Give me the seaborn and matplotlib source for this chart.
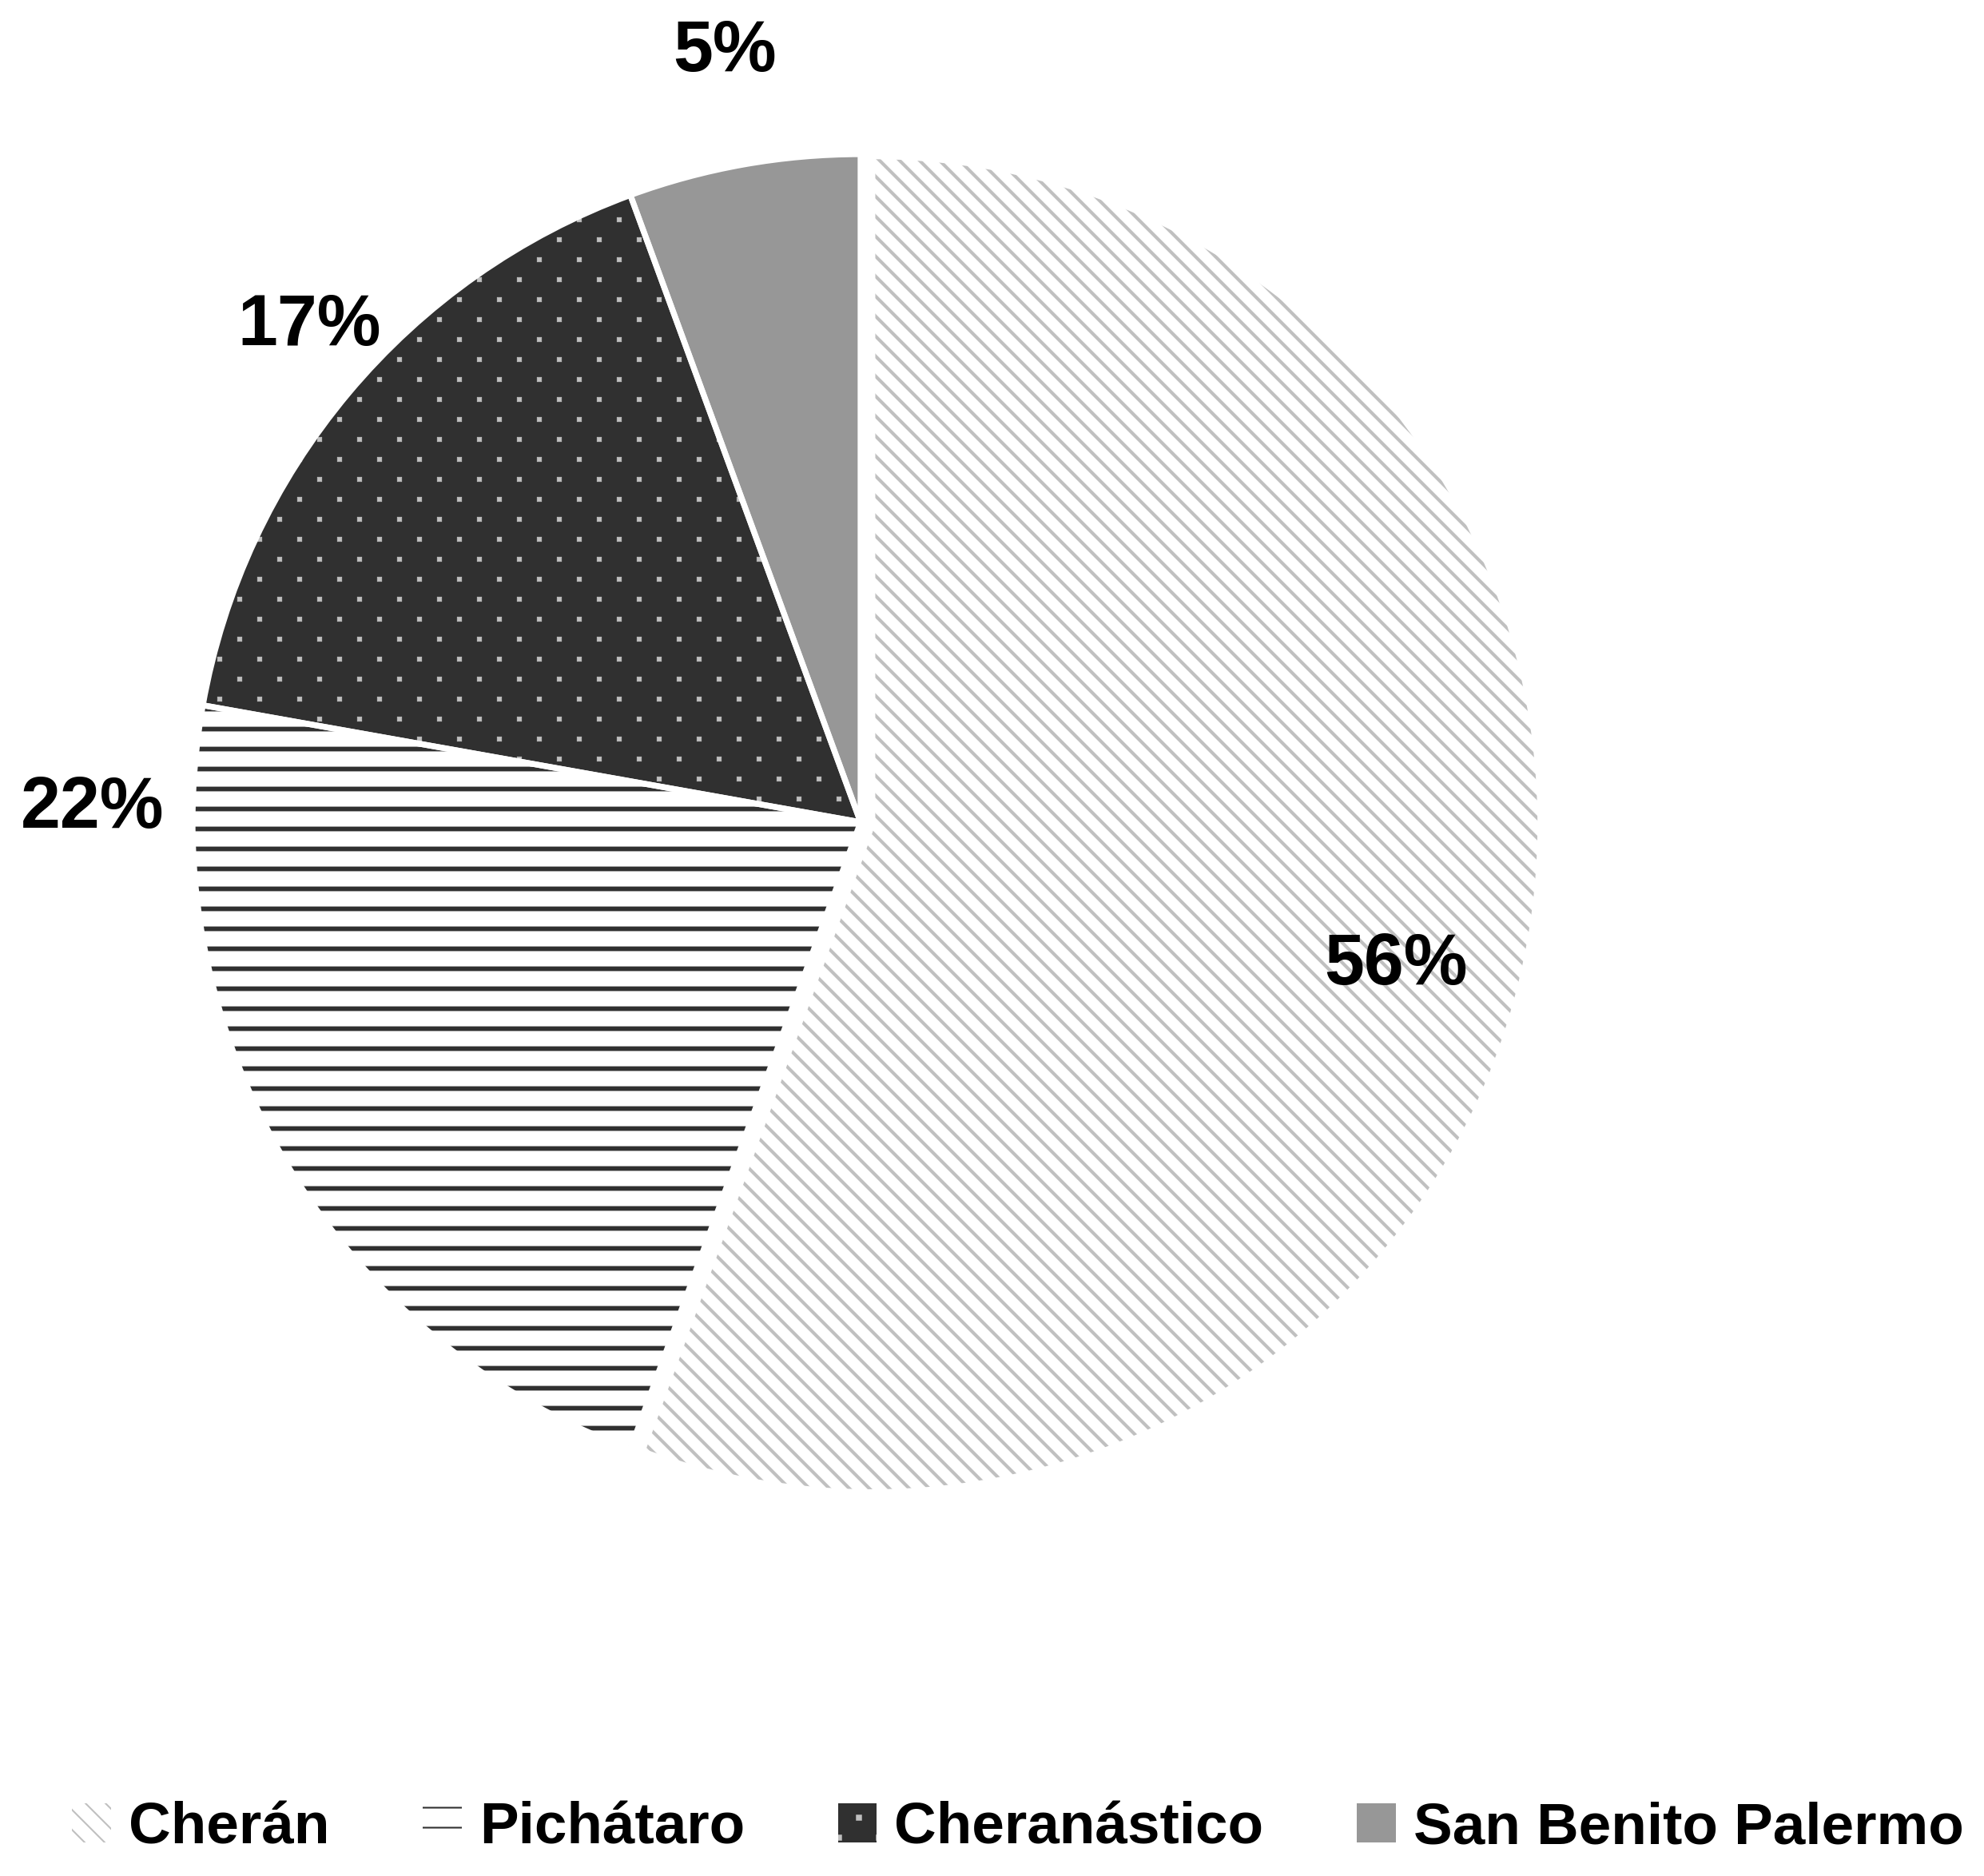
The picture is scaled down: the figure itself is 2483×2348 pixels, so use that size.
import matplotlib
matplotlib.use('Agg')
import numpy as np
import matplotlib.pyplot as plt
import matplotlib.hatch as mhatch
from matplotlib.path import Path
import seaborn as sns

# data
towns = ["Cherán", "Pichátaro", "Cheranástico", "San Benito Palermo"]
shares = [55.6, 22.2, 16.6, 5.6]
pct_labels = ["56%", "22%", "17%", "5%"]

face_colors = ["white", "white", "#303030", "#979797"]
hatch_colors = ["#c0c0c0", "#303030", "#c0c0c0", "#979797"]
hatches = [r"\\", "-", ".", None]
hatch_lw = [2.0, 2.8, 0.4, 1.0]

# label placement (angle in degrees, distance in radii)
label_ang = [-15, 179, 138, 100]
label_dist = [0.83, 1.15, 1.11, 1.17]


# staggered square dots, like the office "dotted grid" fill
class StaggeredSquares(mhatch.HatchPatternBase):
    size = 0.036

    def __init__(self, hatch, density):
        rows = hatch.count('.') * density
        cols = rows // 2
        sq = np.array([[-.5, -.5], [.5, -.5], [.5, .5], [-.5, .5], [-.5, -.5]])
        self.shape_vertices = sq * self.size
        self.shape_codes = np.array([Path.MOVETO, Path.LINETO, Path.LINETO,
                                     Path.LINETO, Path.CLOSEPOLY], dtype=Path.code_type)
        self.centers = []
        if rows:
            for r in range(rows + 1):
                if r % 2 == 0:
                    xs = np.linspace(0, 1, cols + 1)
                else:
                    xs = (np.arange(cols) + 0.5) / cols
                for xx in xs:
                    self.centers.append((xx, r / rows))
        self.num_vertices = len(self.centers) * len(self.shape_vertices)

    def set_vertices_and_codes(self, vertices, codes):
        vertices[:] = np.concatenate([self.shape_vertices + c for c in self.centers])
        codes[:] = np.tile(self.shape_codes, len(self.centers))


mhatch._hatch_types = [StaggeredSquares if t is mhatch.SmallFilledCircles else t
                       for t in mhatch._hatch_types]

sns.set_theme(style="white")
plt.rcParams['font.family'] = ['Liberation Sans', 'DejaVu Sans']

W, H, DPI = 2483, 2348, 150
fig = plt.figure(figsize=(W / DPI, H / DPI), dpi=DPI)
ax = fig.add_axes([0, 0, 1, 1])

cx, cy, R = 1077, H - 1029, 836
explode = [0.018 * R, 0, 0, 0]

wedges, _ = ax.pie(shares, startangle=90, counterclock=False, center=(cx, cy),
                   radius=R, explode=explode, colors=face_colors, frame=True)
for w, hc, h, lw in zip(wedges, hatch_colors, hatches, hatch_lw):
    w.set_edgecolor(hc)
    w.set_linewidth(0)
    if h:
        w.set_hatch(h)
    try:
        w.set_hatch_linewidth(lw)
    except AttributeError:
        pass

# white separators on top
ax.pie(shares, startangle=90, counterclock=False, center=(cx, cy),
       radius=R, explode=explode, colors=["none"] * 4,
       wedgeprops=dict(edgecolor="white", linewidth=3.5), frame=True)
ax.set_xlim(0, W)
ax.set_ylim(0, H)
ax.set_aspect('equal')
ax.axis('off')

for txt, a, d in zip(pct_labels, label_ang, label_dist):
    t = np.deg2rad(a)
    ax.text(cx + d * R * np.cos(t), cy + d * R * np.sin(t), txt,
            ha='center', va='center', fontsize=43, fontweight='bold', color='black')

leg = fig.legend(wedges, towns, loc='center', bbox_to_anchor=(0.513, 1 - 2288 / H), ncol=4,
                 frameon=False, handlelength=0.67, handleheight=0.67,
                 handletextpad=0.3, columnspacing=1.6, prop=dict(weight='bold', size=35))
for t in leg.get_texts():
    t.set_color('black')

fig.savefig('out.png', dpi=DPI)
